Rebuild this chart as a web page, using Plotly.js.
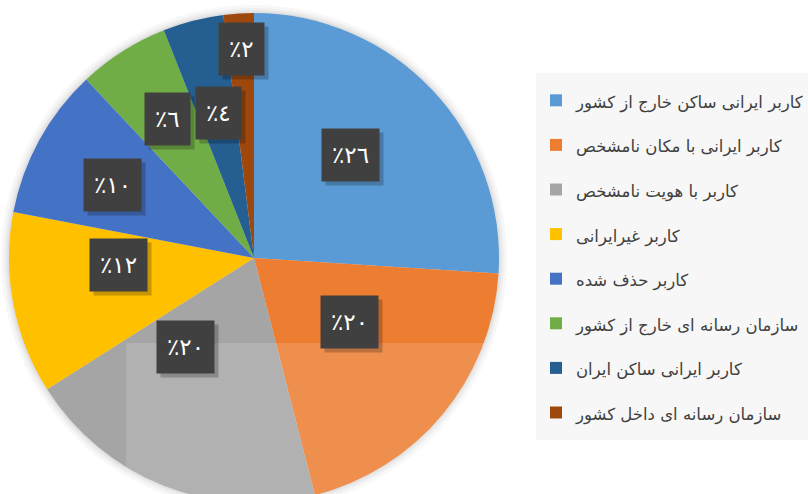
<!DOCTYPE html>
<html>
<head>
<meta charset="utf-8">
<script src="https://cdn.plot.ly/plotly-3.0.1.min.js"></script>
<style>
html,body{margin:0;padding:0;background:#ffffff;overflow:hidden;}
#chart{width:808px;height:516px;}
</style>
</head>
<body>
<div id="chart"></div>
<script>
// ---- data ----
const categories = [
  "کاربر ایرانی ساکن خارج از کشور",
  "کاربر ایرانی با مکان نامشخص",
  "کاربر با هویت نامشخص",
  "کاربر غیرایرانی",
  "کاربر حذف شده",
  "سازمان رسانه ای خارج از کشور",
  "کاربر ایرانی ساکن ایران",
  "سازمان رسانه ای داخل کشور"
];
const values = [26, 20, 20, 12, 10, 6, 4, 2];
const valueLabels = ["٪٢٦", "٪٢٠", "٪٢٠", "٪١٢", "٪١٠", "٪٦", "٪٤", "٪٢"];

// ---- styling / layout ----
const colors = ["#5B9BD5", "#ED7D31", "#A5A5A5", "#FFC000", "#4472C4", "#70AD47", "#255E91", "#9E480E"];
const W = 808, H = 516;
const cx = 254, cy = 258, R = 245;
// label placement (fraction of radius, angular shift in degrees from slice middle)
const labelRadius = [0.575, 0.47, 0.46, 0.555, 0.65, 0.67, 0.61, 0.855];
const labelShift = [-3.8, -6, 16, 8, -1.6, 0.4, 0.5, 0.3];

function dom(r) {
  return {x: [Math.max(0, (cx - r) / W), (cx + r) / W], y: [1 - (cy + r) / H, Math.min(1, 1 - (cy - r) / H)]};
}

const traces = [];
// soft glow around the pie
[8, 5, 3, 1.5].forEach(function (d) {
  traces.push({
    type: "pie", values: [1], labels: ["shadow" + d], sort: false,
    marker: {colors: ["rgba(0,0,0,0.03)"], line: {width: 0}},
    textinfo: "none", hoverinfo: "skip", showlegend: false,
    domain: dom(R + d)
  });
});
const legendLabels = categories.map(function (c) {
  return '<span style="font-size:16.5px;baseline-shift:5px">' + c + '</span>';
});
traces.push({
  type: "pie",
  labels: legendLabels,
  values: values,
  sort: false,
  direction: "clockwise",
  rotation: 0,
  marker: {colors: colors, line: {width: 0}},
  textinfo: "none",
  hoverinfo: "skip",
  domain: dom(R)
});

// value label boxes positioned from slice angles
const total = values.reduce(function (a, b) { return a + b; }, 0);
const annotations = [];
let cum = 0;
values.forEach(function (v, i) {
  const mid = (cum + v / 2) / total * 360 + labelShift[i];
  cum += v;
  const a = mid * Math.PI / 180;
  const px = cx + R * labelRadius[i] * Math.sin(a);
  const py = cy - R * labelRadius[i] * Math.cos(a);
  const base = {
    x: px / W, y: 1 - py / H, xref: "paper", yref: "paper",
    xanchor: "center", yanchor: "middle", showarrow: false,
    text: valueLabels[i], height: 32, borderpad: 10,
    font: {family: "DejaVu Sans", size: 23, color: "#ffffff"}
  };
  annotations.push(Object.assign({}, base, {
    xshift: 4, yshift: -4, bgcolor: "rgba(0,0,0,0.22)", font: {family: "DejaVu Sans", size: 23, color: "rgba(0,0,0,0)"}
  }));
  annotations.push(Object.assign({}, base, {bgcolor: "#404040"}));
});

const layout = {
  width: W, height: H,
  margin: {l: 0, r: 0, t: 0, b: 0, autoexpand: false},
  paper_bgcolor: "#ffffff",
  showlegend: true,
  legend: {
    x: 536 / W, xanchor: "left", y: 1 - 73 / H, yanchor: "top",
    bgcolor: "#f7f7f7", borderwidth: 0,
    font: {family: "DejaVu Sans", size: 32, color: "#404040"},
    traceorder: "normal"
  },
  shapes: [
    {type: "rect", xref: "paper", yref: "paper", layer: "above",
     x0: 126 / W, x1: 487 / W, y0: 0, y1: 1 - 343 / H,
     fillcolor: "rgba(255,255,255,0.14)", line: {width: 0}}
  ],
  annotations: annotations
};

Plotly.newPlot("chart", traces, layout, {staticPlot: true, displayModeBar: false});
</script>
</body>
</html>
